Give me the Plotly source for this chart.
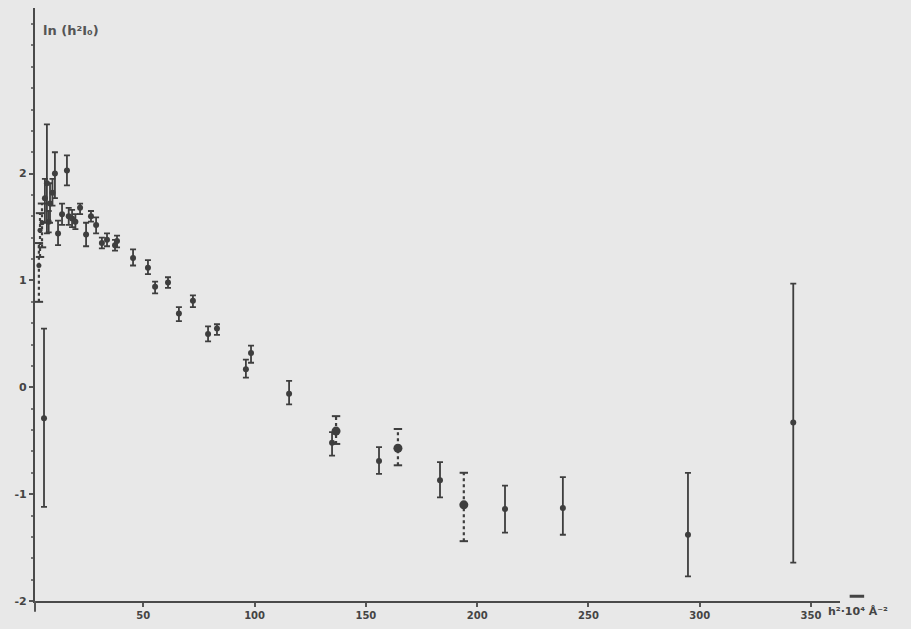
import plotly.graph_objects as go

# Solid-bar series: x (h^2 * 10^4 A^-2), centre, upper end, lower end
x_solid = [5.4, 5.8, 6.7, 7.5, 8.1, 9.2, 10.3, 11.7, 13.5, 15.7, 16.5, 18.0, 19.5, 21.6,
           24.3, 26.5, 28.8, 31.4, 33.7, 37.3, 38.2, 45.4, 52.1, 55.3, 61.1, 66.0,
           72.3, 79.1, 83.1, 96.1, 98.4, 115.5, 134.8, 155.9, 183.3, 212.5, 238.5,
           294.7, 342.0]
y_solid = [-0.29, 1.77, 1.91, 1.55, 1.72, 1.82, 2.00, 1.44, 1.62, 2.03, 1.60, 1.58, 1.55, 1.68,
           1.43, 1.60, 1.52, 1.35, 1.38, 1.33, 1.37, 1.21, 1.12, 0.94, 0.98, 0.69,
           0.81, 0.50, 0.55, 0.17, 0.32, -0.06, -0.52, -0.69, -0.87, -1.14, -1.13,
           -1.38, -0.33]
hi_solid = [0.55, 1.95, 2.46, 1.65, 1.91, 1.95, 2.20, 1.56, 1.72, 2.17, 1.68, 1.66, 1.62, 1.72,
            1.54, 1.65, 1.59, 1.40, 1.44, 1.38, 1.42, 1.29, 1.19, 0.99, 1.03, 0.75,
            0.86, 0.57, 0.59, 0.26, 0.39, 0.06, -0.42, -0.56, -0.70, -0.92, -0.84,
            -0.80, 0.97]
lo_solid = [-1.12, 1.54, 1.44, 1.45, 1.54, 1.70, 1.77, 1.33, 1.52, 1.89, 1.52, 1.50, 1.48, 1.62,
            1.32, 1.55, 1.44, 1.30, 1.32, 1.28, 1.31, 1.14, 1.06, 0.88, 0.93, 0.62,
            0.75, 0.43, 0.49, 0.09, 0.23, -0.16, -0.64, -0.81, -1.03, -1.36, -1.38,
            -1.77, -1.64]

# Dotted-bar series
x_dot = [3.1, 3.6, 4.5, 136.6, 164.4, 194.0]
y_dot = [1.14, 1.47, 1.54, -0.41, -0.57, -1.10]
hi_dot = [1.35, 1.63, 1.72, -0.27, -0.39, -0.80]
lo_dot = [0.80, 1.22, 1.31, -0.53, -0.73, -1.44]

x_ticks = [50, 100, 150, 200, 250, 300, 350]
y_ticks = [-2, -1, 0, 1, 2]

ink = "#3e3e3e"
paper = "#e8e8e8"

fig = go.Figure()

fig.add_trace(go.Scatter(
    x=x_solid, y=y_solid, mode="markers",
    marker=dict(size=6, color=ink),
    error_y=dict(type="data", symmetric=False,
                 array=[h - c for h, c in zip(hi_solid, y_solid)],
                 arrayminus=[c - l for c, l in zip(y_solid, lo_solid)],
                 color=ink, thickness=1.8, width=3),
    showlegend=False, hoverinfo="skip"))

# dotted error bars
bx, by = [], []
for x, h, l in zip(x_dot, hi_dot, lo_dot):
    bx += [x, x, None]
    by += [l, h, None]
fig.add_trace(go.Scatter(x=bx, y=by, mode="lines",
                         line=dict(color=ink, width=2.2, dash="dot"),
                         showlegend=False, hoverinfo="skip"))
fig.add_trace(go.Scatter(x=x_dot + x_dot, y=hi_dot + lo_dot, mode="markers",
                         marker=dict(symbol="line-ew-open", size=6, color=ink,
                                     line=dict(width=2, color=ink)),
                         showlegend=False, hoverinfo="skip"))
fig.add_trace(go.Scatter(x=x_dot[:3], y=y_dot[:3], mode="markers",
                         marker=dict(size=5, color=ink, line=dict(width=0)),
                         showlegend=False, hoverinfo="skip"))
fig.add_trace(go.Scatter(x=x_dot[3:], y=y_dot[3:], mode="markers",
                         marker=dict(size=9, color=ink, line=dict(width=0)),
                         showlegend=False, hoverinfo="skip"))

fig.update_layout(
    width=911, height=629,
    margin=dict(l=35, r=71, t=8, b=22),
    paper_bgcolor=paper, plot_bgcolor=paper,
    font=dict(family="DejaVu Sans", color="#444444", size=11),
    xaxis=dict(range=[1.35, 363], tickvals=x_ticks,
               ticktext=[str(v) for v in x_ticks],
               showgrid=False, zeroline=False, showline=True,
               linecolor="#4a4a4a", linewidth=1.6,
               ticks="outside", ticklen=4, tickcolor="#555555", tickwidth=1.5,
               tickfont=dict(size=10, weight="bold", color="#444444")),
    yaxis=dict(range=[-2, 3.55], tickvals=y_ticks,
               ticktext=[str(v) for v in y_ticks],
               showgrid=False, zeroline=False, showline=True,
               linecolor="#4a4a4a", linewidth=2.2,
               ticks="outside", ticklen=4, tickcolor="#555555", tickwidth=1.5,
               minor=dict(dtick=0.2, ticks="outside", ticklen=2,
                          tickcolor="#777777", showgrid=False),
               tickfont=dict(size=11, weight="bold", color="#444444")),
)

# y-axis extension below x-axis
fig.add_shape(type="line", xref="paper", yref="paper", x0=0, x1=0, y0=0, y1=-0.018,
              line=dict(color="#555555", width=2))
# x-axis arrow stub
fig.add_shape(type="line", xref="paper", yref="paper", x0=1.012, x1=1.03, y0=0.008, y1=0.008,
              line=dict(color="#444444", width=3))

fig.add_annotation(text="h²·10⁴ Å⁻²", xref="paper", yref="paper",
                   x=0.983, y=-0.004, xanchor="left", yanchor="top", showarrow=False,
                   font=dict(size=11, weight="bold", color="#444444"))
fig.add_annotation(text="ln (h²I₀)", xref="paper", yref="paper",
                   x=0.008, y=0.962, xanchor="left", yanchor="middle", showarrow=False,
                   font=dict(size=13, weight="bold", color="#555555"))

fig.write_html("out.html", config={"displayModeBar": False},
               post_script="document.body.style.margin='0';")
